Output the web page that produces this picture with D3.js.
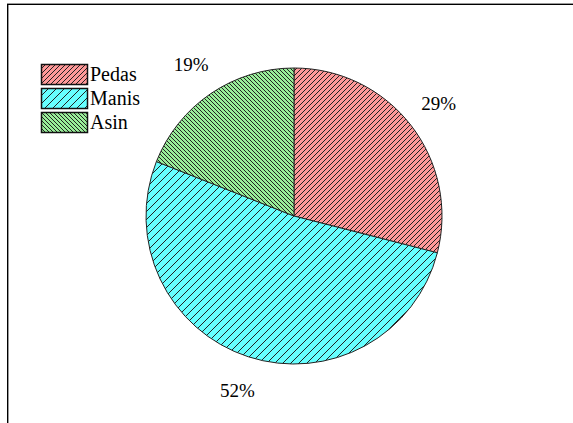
<!DOCTYPE html>
<html><head><meta charset="utf-8">
<script src="https://cdn.jsdelivr.net/npm/d3@7"></script>
<style>html,body{margin:0;padding:0;background:#fff;overflow:hidden}</style>
</head><body>
<svg id="chart" width="573" height="423"></svg>
<script>
const categories = ["Pedas", "Manis", "Asin"];
const values = [29, 52, 19];
const labels = ["29%", "52%", "19%"];
const fills = ["#ff9999", "#66ffff", "#99ee99"];

const svg = d3.select("#chart");
const W = 573, H = 423;
const defs = svg.append("defs");
// hatch patterns: [spacing, direction]
const hatch = [{s:5, dir:"/"}, {s:8, dir:"/"}, {s:4, dir:"\\"}];
hatch.forEach((h, i) => {
  const p = defs.append("pattern").attr("id", "hatch" + i)
    .attr("patternUnits", "userSpaceOnUse").attr("width", h.s).attr("height", h.s);
  p.append("rect").attr("width", h.s).attr("height", h.s).attr("fill", fills[i]);
  const s = h.s;
  const d = h.dir === "/"
    ? `M0,${s} L${s},0 M${-1},1 L1,${-1} M${s-1},${s+1} L${s+1},${s-1}`
    : `M0,0 L${s},${s} M${-1},${s-1} L1,${s+1} M${s-1},${-1} L${s+1},1`;
  p.append("path").attr("d", d).attr("stroke", "#222").attr("stroke-width", 1);
});

// frame
svg.append("line").attr("x1", 7.5).attr("x2", 7.5).attr("y1", 3).attr("y2", H).attr("stroke", "#000").attr("stroke-width", 1);
svg.append("line").attr("x1", 8.5).attr("x2", 8.5).attr("y1", 4).attr("y2", H).attr("stroke", "#999").attr("stroke-width", 1);
svg.append("line").attr("x1", 7).attr("x2", W).attr("y1", 3.5).attr("y2", 3.5).attr("stroke", "#999").attr("stroke-width", 1);
svg.append("line").attr("x1", 7).attr("x2", W).attr("y1", 4.5).attr("y2", 4.5).attr("stroke", "#000").attr("stroke-width", 1);

const cx = 294, cy = 216, r = 148;
const pie = d3.pie().sort(null).value(d => d)(values);
const arc = d3.arc().innerRadius(0).outerRadius(r);
const labelArc = d3.arc().innerRadius(183).outerRadius(183);
const g = svg.append("g").attr("transform", `translate(${cx},${cy})`);
g.selectAll("path.slice").data(pie).enter().append("path")
  .attr("class", "slice")
  .attr("d", arc)
  .attr("fill", (d, i) => `url(#hatch${i})`)
  .attr("stroke", "#222").attr("stroke-width", 1);
g.selectAll("text.lbl").data(pie).enter().append("text")
  .attr("class", "lbl")
  .attr("transform", d => `translate(${labelArc.centroid(d)})`)
  .attr("text-anchor", "middle").attr("dy", "0.35em")
  .attr("font-family", "Liberation Serif, serif").attr("font-size", 19)
  .text((d, i) => labels[i]);

// legend
const leg = svg.append("g").attr("transform", "translate(41,64)");
categories.forEach((c, i) => {
  const y = i * 24;
  leg.append("rect").attr("x", 0.5).attr("y", y + 0.5).attr("width", 46).attr("height", 20)
    .attr("fill", `url(#hatch${i})`).attr("stroke", "#111").attr("stroke-width", 1.5);
  leg.append("text").attr("x", 49).attr("y", y + 10).attr("dy", "0.35em")
    .attr("font-family", "Liberation Serif, serif").attr("font-size", 20)
    .text(c);
});
</script>
</body></html>
